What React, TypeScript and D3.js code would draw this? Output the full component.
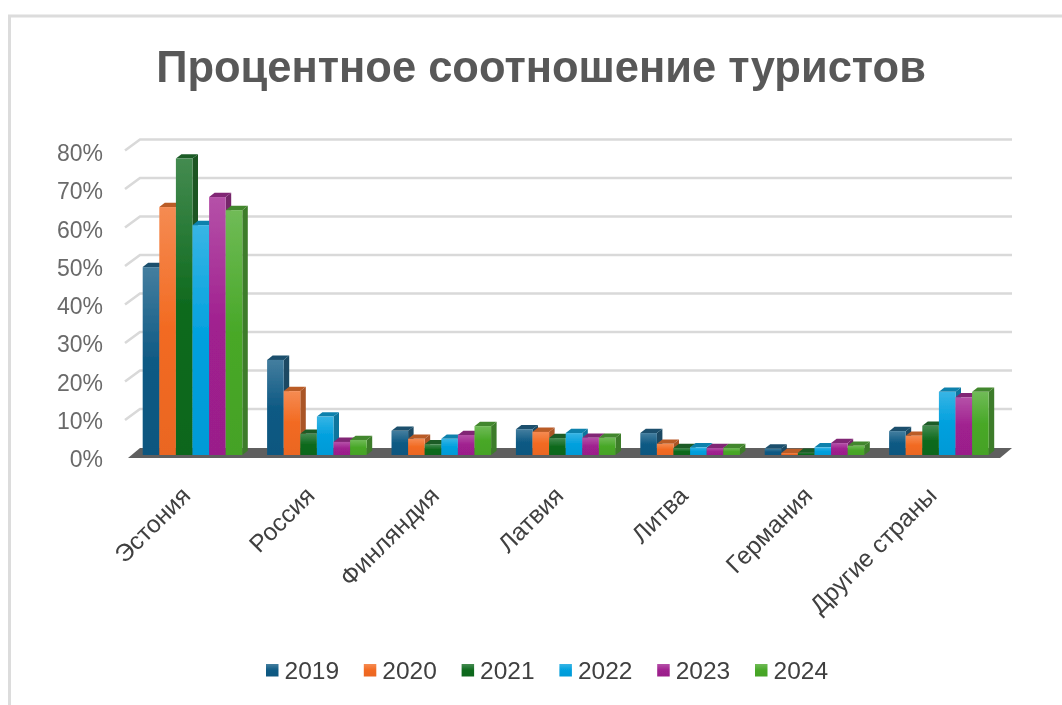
import React from "react";
import * as d3 from "d3";

const title = "Процентное соотношение туристов";
const categories = ["Эстония", "Россия", "Финляндия", "Латвия", "Литва", "Германия", "Другие страны"];
const years = ["2019", "2020", "2021", "2022", "2023", "2024"];
const v2019 = [48.8, 24.7, 6.3, 6.7, 5.7, 1.7, 6.2];
const v2020 = [64.4, 16.6, 4.2, 6.0, 2.9, 0.5, 5.0];
const v2021 = [77.0, 5.5, 2.8, 4.4, 1.8, 0.6, 7.6];
const v2022 = [59.7, 10.0, 4.2, 5.7, 2.0, 2.0, 16.4];
const v2023 = [67.0, 3.4, 5.2, 4.5, 1.8, 3.1, 15.0];
const v2024 = [63.6, 3.9, 7.5, 4.5, 1.8, 2.4, 16.4];
const series = [v2019, v2020, v2021, v2022, v2023, v2024];
const colors = ["#0f5a84", "#f26a21", "#0f6a1e", "#00a0de", "#a0208f", "#48a828"];
const yTicks = [0, 10, 20, 30, 40, 50, 60, 70, 80];

const W = 1062, H = 705;
const dx = 5.5, dy = 4.3;
const y = d3.scaleLinear().domain([0, 80]).range([455, 147]);
const yLabel = d3.scaleLinear().domain([0, 80]).range([467, 161]);
const x0 = d3.scaleBand().domain(categories).range([142.7, 142.7 + 124.4 * 7]);
const barW = 16.6;

const shade = (c: string, k: number) => d3.interpolateRgb(d3.rgb(c).darker(k).formatHex(), "#606060")(0.18);
const tint = (c: string) => d3.interpolateRgb(c, "#ffffff")(0.22);

export default function App() {
  return (
    <svg width={W} height={H} style={{ position: "absolute", left: 0, top: 0, background: "#fff" }}
      fontFamily="'Liberation Sans', Arial, sans-serif">
      <defs>
        <filter id="soft" x="-5%" y="-5%" width="110%" height="110%">
          <feGaussianBlur stdDeviation="0.45" />
        </filter>
        {colors.map((c, i) => (
          <linearGradient key={i} id={`g${i}`} x1="0" y1="0" x2="0" y2="1">
            <stop offset="0" stopColor={tint(c)} />
            <stop offset="0.5" stopColor={c} />
            <stop offset="1" stopColor={d3.rgb(c).darker(0.1).formatHex()} />
          </linearGradient>
        ))}
      </defs>
      <g filter="url(#soft)">
        <path d="M9.5 705V16H1062" fill="none" stroke="#dcdcdc" strokeWidth={3} />
        <text x={541} y={82} textAnchor="middle" fontSize={43.5} fontWeight={700} fill="#595959">{title}</text>

        {yTicks.map((t) => {
          const back = y(t) - 7.5;
          return (
            <g key={t}>
              {t > 0 && (
                <path d={`M125 ${back + 11}L140 ${back}H1012`} fill="none" stroke="#d9d9d9" strokeWidth={2.6} />
              )}
              <text x={103} y={yLabel(t)} textAnchor="end" fontSize={23} fill="#6a6a6a">{t}%</text>
            </g>
          );
        })}

        <polygon points="128,458 140,448 1012,448 1000,458" fill="#5f5f5f" />

        {categories.map((cat, ci) => {
          const gx = x0(cat)!;
          return (
            <g key={cat}>
              {years.map((yr, si) => {
                const xx = gx + si * barW;
                const top = y(series[si][ci]);
                const c = colors[si];
                const bottom = y(0);
                return (
                  <g key={yr}>
                    <polygon points={`${xx + barW},${top} ${xx + barW + dx},${top - dy} ${xx + barW + dx},${bottom - dy} ${xx + barW},${bottom}`} fill={shade(c, 0.75)} />
                    <polygon points={`${xx},${top} ${xx + dx},${top - dy} ${xx + barW + dx},${top - dy} ${xx + barW},${top}`} fill={shade(c, 0.45)} />
                    <rect x={xx} y={top} width={barW} height={Math.max(bottom - top, 0)} fill={`url(#g${si})`} />
                  </g>
                );
              })}
              <text transform={`translate(${gx + 43},${491}) rotate(-45)`} textAnchor="end" dy="0.35em" fontSize={24.5} fill="#404040">{cat}</text>
            </g>
          );
        })}

        {years.map((yr, i) => {
          const lx = 266 + i * 97.8;
          return (
            <g key={yr}>
              <rect x={lx} y={664} width={12.5} height={12.5} fill={`url(#g${i})`} />
              <text x={lx + 18.5} y={679} fontSize={24.5} fill="#404040">{yr}</text>
            </g>
          );
        })}
      </g>
    </svg>
  );
}
